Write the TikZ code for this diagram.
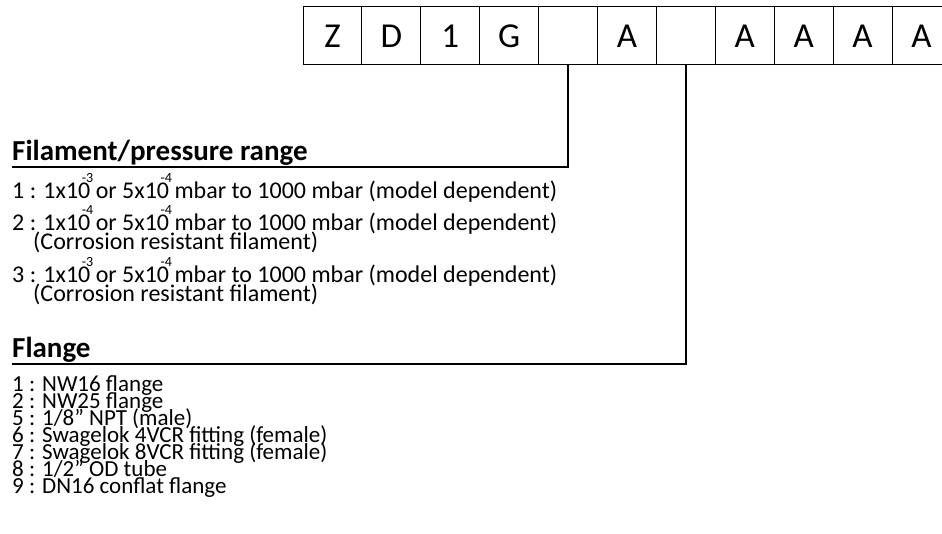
\documentclass[tikz,border=0pt]{standalone}
\usepackage{fontspec}
\setmainfont{Carlito}
\usetikzlibrary{positioning}

\newcommand{\expo}[1]{\makebox[0pt][r]{\raisebox{16bp}{\fontsize{14bp}{14bp}\selectfont #1}\hspace{-3bp}}}

\begin{document}
\begin{tikzpicture}[x=1bp,y=-1bp,
  cellbox/.style={draw,line width=1bp,minimum width=58.9bp,minimum height=57.6bp,inner sep=0pt,outer sep=0pt,font=\fontsize{35bp}{35bp}\selectfont},
  headtext/.style={anchor=base west,inner sep=0pt,font=\fontsize{29bp}{29bp}\selectfont\bfseries},
  itemtext/.style={anchor=base west,inner sep=0pt,font=\fontsize{24bp}{24bp}\selectfont},
  listtext/.style={anchor=base west,inner sep=0pt,font=\fontsize{23bp}{23bp}\selectfont},
  leader/.style={line width=1.5bp}]

\useasboundingbox (0,0) rectangle (942,534);

% code boxes
\node[cellbox,anchor=north west] (c1) at (303,7) {Z};
\node[cellbox,right=0pt of c1] (c2) {D};
\node[cellbox,right=0pt of c2] (c3) {1};
\node[cellbox,right=0pt of c3] (c4) {G};
\node[cellbox,right=0pt of c4] (c5) {};
\node[cellbox,right=0pt of c5] (c6) {A};
\node[cellbox,right=0pt of c6] (c7) {};
\node[cellbox,right=0pt of c7] (c8) {A};
\node[cellbox,right=0pt of c8] (c9) {A};
\node[cellbox,right=0pt of c9] (c10) {A};
\node[cellbox,right=0pt of c10] (c11) {A};

% filament / pressure range
\node[headtext] (filhead) at (12,161) {Filament/pressure range};
\coordinate (filend) at (12,167);
\draw[leader] (c5.south) |- (filend);

\node[itemtext] (fil1) at (12,199) {1 : 1x10\expo{-3} or 5x10\expo{-4} mbar to 1000 mbar (model dependent)};
\node[itemtext] (fil2) at (12,231) {2 : 1x10\expo{-4} or 5x10\expo{-4} mbar to 1000 mbar (model dependent)};
\node[itemtext] (fil2b) at (33,250) {(Corrosion resistant filament)};
\node[itemtext] (fil3) at (12,283) {3 : 1x10\expo{-3} or 5x10\expo{-4} mbar to 1000 mbar (model dependent)};
\node[itemtext] (fil3b) at (33,302) {(Corrosion resistant filament)};

% flange
\node[headtext] (flghead) at (12,358) {Flange};
\coordinate (flgend) at (12,364);
\draw[leader] (c7.south) |- (flgend);

\node[listtext] (flg1) at (12,391) {1 : NW16 flange};
\node[listtext] (flg2) at (12,408) {2 : NW25 flange};
\node[listtext] (flg5) at (12,425) {5 : 1/8” NPT (male)};
\node[listtext] (flg6) at (12,442) {6 : Swagelok 4VCR fitting (female)};
\node[listtext] (flg7) at (12,459) {7 : Swagelok 8VCR fitting (female)};
\node[listtext] (flg8) at (12,476) {8 : 1/2” OD tube};
\node[listtext] (flg9) at (12,493) {9 : DN16 conflat flange};
\end{tikzpicture}
\end{document}
